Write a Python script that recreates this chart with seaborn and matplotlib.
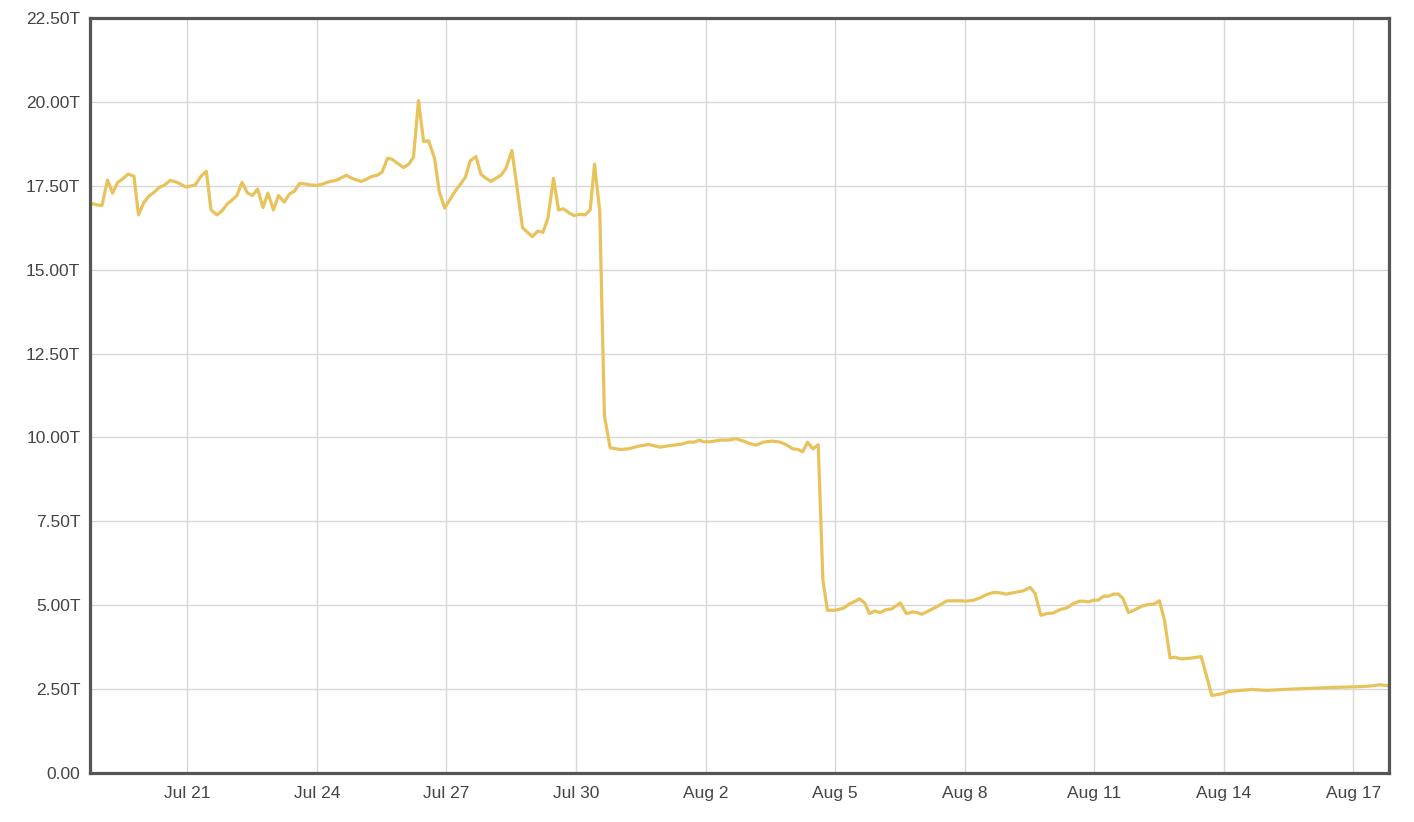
import pandas as pd
import matplotlib
matplotlib.use("Agg")
import matplotlib.pyplot as plt
import matplotlib.dates as mdates
from matplotlib.ticker import FuncFormatter
import seaborn as sns

# --- Datos (valor en billones "T") ---
fechas = [
    "07-18 18:00", "07-18 21:48", "07-19 00:36", "07-19 03:42", "07-19 06:30", "07-19 09:18",
    "07-19 12:06", "07-19 15:06", "07-19 18:24", "07-19 20:54", "07-19 23:42", "07-20 02:30",
    "07-20 05:42", "07-20 08:24", "07-20 11:24", "07-20 14:36", "07-20 18:18", "07-20 21:06",
    "07-20 23:18", "07-21 01:40", "07-21 04:24", "07-21 07:36", "07-21 10:36", "07-21 13:12",
    "07-21 16:30", "07-21 19:18", "07-21 22:06", "07-22 00:48", "07-22 03:36", "07-22 06:24",
    "07-22 09:30", "07-22 12:18", "07-22 15:06", "07-22 18:06", "07-22 20:48", "07-22 23:54",
    "07-23 02:42", "07-23 05:54", "07-23 08:42", "07-23 11:36", "07-23 14:24", "07-23 17:36",
    "07-23 20:54", "07-24 00:06", "07-24 03:12", "07-24 05:36", "07-24 11:12", "07-24 16:18",
    "07-24 20:24", "07-25 00:42", "07-25 03:48", "07-25 06:36", "07-25 09:24", "07-25 12:12",
    "07-25 15:18", "07-25 17:42", "07-25 20:48", "07-26 00:12", "07-26 03:00", "07-26 05:42",
    "07-26 08:30", "07-26 11:18", "07-26 14:06", "07-26 17:24", "07-26 20:00", "07-26 23:00",
    "07-27 02:06", "07-27 04:54", "07-27 07:42", "07-27 10:30", "07-27 13:12", "07-27 16:24",
    "07-27 19:12", "07-27 22:00", "07-28 00:42", "07-28 03:30", "07-28 06:30", "07-28 09:06",
    "07-28 12:24", "07-28 15:30", "07-28 18:18", "07-28 21:06", "07-28 23:48", "07-29 02:48",
    "07-29 05:36", "07-29 08:24", "07-29 11:30", "07-29 14:18", "07-29 17:06", "07-29 20:24",
    "07-29 23:00", "07-30 02:00", "07-30 05:06", "07-30 07:54", "07-30 10:18", "07-30 13:12",
    "07-30 15:48", "07-30 19:00", "07-31 00:36", "07-31 05:12", "07-31 10:42", "07-31 16:18",
    "07-31 22:48", "08-01 04:24", "08-01 09:54", "08-01 14:30", "08-01 17:42", "08-01 20:30",
    "08-01 22:48", "08-02 02:36", "08-02 08:06", "08-02 12:42", "08-02 16:54", "08-02 21:06",
    "08-03 00:24", "08-03 04:00", "08-03 08:12", "08-03 12:54", "08-03 17:30", "08-03 21:12",
    "08-04 00:30", "08-04 03:36", "08-04 05:54", "08-04 08:42", "08-04 11:36", "08-04 14:36",
    "08-04 17:12", "08-04 19:42", "08-05 00:00", "08-05 04:36", "08-05 08:00", "08-05 10:54",
    "08-05 13:30", "08-05 16:24", "08-05 19:06", "08-05 22:00", "08-06 01:00", "08-06 04:24",
    "08-06 07:30", "08-06 12:12", "08-06 15:30", "08-06 19:12", "08-06 21:42", "08-07 00:12",
    "08-07 03:54", "08-07 07:36", "08-07 10:42", "08-07 14:06", "08-07 17:42", "08-07 21:30",
    "08-08 01:12", "08-08 04:54", "08-08 08:36", "08-08 12:18", "08-08 16:00", "08-08 19:18",
    "08-08 23:00", "08-09 02:48", "08-09 05:54", "08-09 08:36", "08-09 12:24", "08-09 15:06",
    "08-09 18:18", "08-09 21:36", "08-10 01:18", "08-10 05:00", "08-10 08:48", "08-10 12:24",
    "08-10 15:48", "08-10 18:00", "08-10 20:48", "08-10 23:30", "08-11 02:18", "08-11 05:06",
    "08-11 07:54", "08-11 10:36", "08-11 13:24", "08-11 15:54", "08-11 19:00", "08-11 22:42",
    "08-12 02:24", "08-12 05:48", "08-12 08:54", "08-12 12:12", "08-12 15:00", "08-12 18:06",
    "08-12 20:54", "08-13 00:06", "08-13 05:12", "08-13 11:24", "08-13 17:18", "08-13 23:48",
    "08-14 02:36", "08-14 09:00", "08-14 15:30", "08-14 23:48", "08-15 08:54", "08-15 18:24",
    "08-16 03:12", "08-16 12:48", "08-17 01:48", "08-17 09:12", "08-17 14:48", "08-17 19:30",
]
valores = [
    16.98, 16.93, 16.91, 17.67, 17.28, 17.60,
    17.70, 17.85, 17.78, 16.63, 16.98, 17.18,
    17.31, 17.45, 17.52, 17.66, 17.60, 17.52,
    17.46, 17.49, 17.52, 17.78, 17.93, 16.78,
    16.63, 16.75, 16.95, 17.07, 17.21, 17.60,
    17.28, 17.21, 17.40, 16.85, 17.28, 16.78,
    17.21, 17.01, 17.25, 17.34, 17.57, 17.55,
    17.52, 17.51, 17.55, 17.60, 17.67, 17.81,
    17.70, 17.63, 17.70, 17.78, 17.81, 17.90,
    18.32, 18.29, 18.17, 18.04, 18.14, 18.35,
    20.04, 18.82, 18.84, 18.32, 17.33, 16.83,
    17.10, 17.34, 17.54, 17.75, 18.24, 18.37,
    17.84, 17.72, 17.63, 17.72, 17.82, 18.02,
    18.55, 17.33, 16.25, 16.11, 15.98, 16.15,
    16.11, 16.53, 17.72, 16.78, 16.81, 16.68,
    16.61, 16.65, 16.63, 16.78, 18.14, 16.74,
    10.64, 9.69, 9.64, 9.66, 9.74, 9.79,
    9.71, 9.76, 9.79, 9.86, 9.86, 9.92,
    9.87, 9.87, 9.92, 9.92, 9.96, 9.89,
    9.82, 9.77, 9.86, 9.89, 9.86, 9.77,
    9.66, 9.64, 9.57, 9.86, 9.66, 9.78,
    5.75, 4.85, 4.85, 4.91, 5.04, 5.11,
    5.19, 5.07, 4.75, 4.83, 4.78, 4.87,
    4.89, 5.07, 4.75, 4.80, 4.78, 4.73,
    4.83, 4.93, 5.02, 5.13, 5.13, 5.13,
    5.12, 5.15, 5.22, 5.32, 5.38, 5.37,
    5.33, 5.37, 5.40, 5.43, 5.53, 5.35,
    4.70, 4.75, 4.77, 4.87, 4.92, 5.05,
    5.12, 5.12, 5.10, 5.15, 5.15, 5.27,
    5.27, 5.33, 5.33, 5.20, 4.78, 4.87,
    4.97, 5.02, 5.03, 5.13, 4.55, 3.43,
    3.45, 3.40, 3.42, 3.47, 2.31, 2.37,
    2.43, 2.46, 2.49, 2.46, 2.49, 2.51,
    2.53, 2.55, 2.57, 2.59, 2.63, 2.60,
]
marcas_x = ["07-21", "07-24", "07-27", "07-30", "08-02", "08-05", "08-08", "08-11", "08-14", "08-17"]
marcas_y = [0, 2.5, 5, 7.5, 10, 12.5, 15, 17.5, 20, 22.5]

df = pd.DataFrame({
    "fecha": pd.to_datetime(["2024-" + f for f in fechas]),
    "valor": valores,
})

sns.set_style("whitegrid")
plt.rcParams["font.family"] = ["Liberation Sans", "DejaVu Sans"]

fig = plt.figure(figsize=(14.14, 8.22), dpi=100)
ax = fig.add_axes([0.0637, 0.0596, 0.9183, 0.9186])

sns.lineplot(data=df, x="fecha", y="valor", color="#E8C25A", linewidth=2.3, ax=ax)

ax.set_xlim(df["fecha"].iloc[0], df["fecha"].iloc[-1])
ax.set_ylim(0, 22.5)
ax.set_yticks(marcas_y)
ax.yaxis.set_major_formatter(FuncFormatter(lambda v, p: "0.00" if v == 0 else f"{v:.2f}T"))
ax.set_xticks(pd.to_datetime(["2024-" + m for m in marcas_x]))
ax.xaxis.set_major_formatter(mdates.DateFormatter("%b %-d"))

ax.set_xlabel("")
ax.set_ylabel("")
ax.grid(True, color="#d8d8d8", linewidth=1.0)
for s in ax.spines.values():
    s.set_color("#555555")
    s.set_linewidth(2.3)
ax.tick_params(axis="both", length=0, labelsize=12.5, labelcolor="#444444")
ax.tick_params(axis="x", pad=9)
ax.tick_params(axis="y", pad=7)

plt.savefig("out.png", dpi=100)
plt.close()
